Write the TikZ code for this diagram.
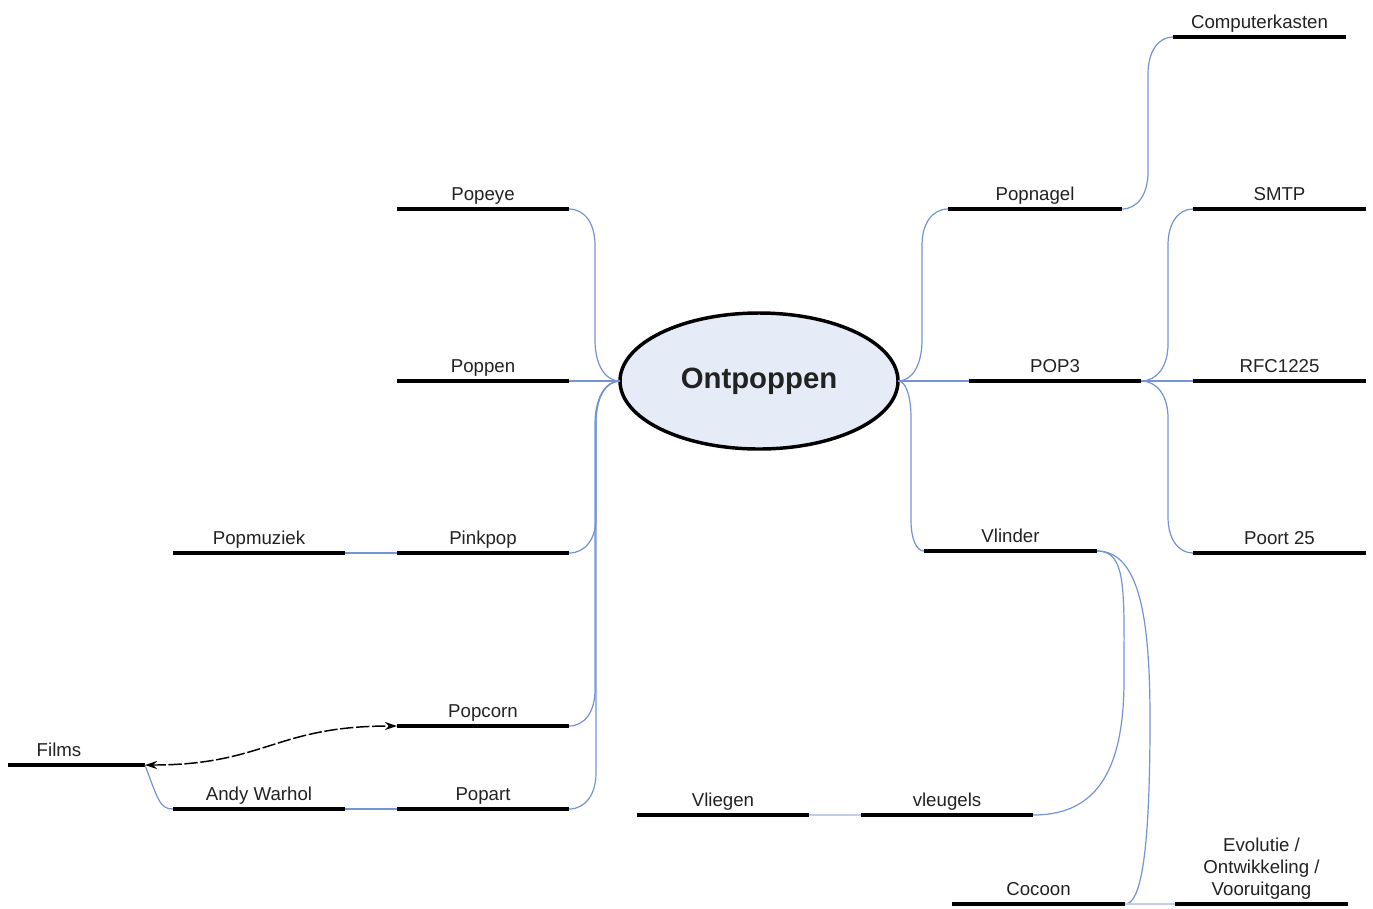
\documentclass[tikz,border=0pt]{standalone}
\usepackage{fontspec}
\setmainfont{Liberation Sans}
\usetikzlibrary{shapes.geometric,arrows.meta,calc}
\definecolor{conn}{HTML}{7393D4}
\definecolor{txt}{HTML}{222222}
\definecolor{efill}{HTML}{E6ECF7}
\tikzset{
  bar/.style={line width=3pt,black},
  lbl/.style={anchor=base,inner sep=0pt,yshift=6.75pt,text=txt,font=\fontsize{14}{16.5}\selectfont,align=center},
  link/.style={conn,line width=0.9pt},
  faint/.style={conn!45,line width=0.9pt},
  assoc/.style={black,line width=1.1pt,dash pattern=on 10pt off 2pt,{Stealth[length=9pt,width=6pt]}-{Stealth[length=9pt,width=6pt]}},
  central/.style={ellipse,draw=black,line width=2.6pt,fill=efill,minimum width=208.5pt,minimum height=102pt,inner sep=0pt,outer sep=0pt,font=\fontsize{22}{26}\bfseries\selectfont,text=txt}
}
\newcommand\topicline[4]{%
  \coordinate (#1-l) at (#2,#4);
  \coordinate (#1-r) at (#3,#4);
  \draw[bar] (#1-l) -- (#1-r);}
\newcommand\topic[5]{%
  \topicline{#1}{#2}{#3}{#4}
  \node[lbl] (#1) at ({(#2+#3)/2},#4) {#5};}
% vertical link: start, x, y of start, y1, y2, y of end, end
\newcommand\vlink[7]{%
  \draw[link] (#1) .. controls ($(#1)!0.6!(#2,#3)$) and (#2,{#4+0.6*(#3-#4)}) .. (#2,#4) -- (#2,#5)
     .. controls (#2,{#5+0.6*(#6-#5)}) and ($(#7)!0.6!(#2,#6)$) .. (#7);}
\begin{document}
\begin{tikzpicture}[x=0.75pt,y=-0.75pt]
\useasboundingbox (0,0) rectangle (1373,908);
\node[central] (c) at (759,381) {Ontpoppen};
% left
\topic{pe}{397}{569}{209}{Popeye}
\topic{pn}{397}{569}{381}{Poppen}
\topic{pk}{397}{569}{553}{Pinkpop}
\topic{pm}{173}{345}{553}{Popmuziek}
\topic{pc}{397}{569}{726}{Popcorn}
\topic{pa}{397}{569}{809}{Popart}
\topic{aw}{173}{345}{809}{Andy Warhol}
\topicline{fi}{8}{145}{765}
\node[lbl] (fi) at (59,765) {Films};
% right
\topic{pg}{948}{1122}{209}{Popnagel}
\topic{ck}{1173}{1346}{37}{Computerkasten}
\topic{sm}{1193}{1366}{209}{SMTP}
\topic{p3}{969}{1141}{381}{POP3}
\topic{rf}{1193}{1366}{381}{RFC1225}
\topic{po}{1193}{1366}{553}{Poort 25}
\topic{vl}{924}{1097}{551}{Vlinder}
\topic{vg}{861}{1033}{815}{vleugels}
\topic{vi}{637}{809}{815}{Vliegen}
\topic{co}{952}{1125}{904}{Cocoon}
\topic{ev}{1175}{1348}{904}{Evolutie /\\Ontwikkeling /\\Vooruitgang}
% connectors left
\vlink{c.west}{595}{381}{340}{245}{209}{pe-r}
\draw[link] (c.west) -- (pn-r);
\vlink{c.west}{596}{381}{422}{518}{553}{pk-r}
\vlink{c.west}{595}{381}{424}{690}{726}{pc-r}
\vlink{c.west}{596}{381}{422}{773}{809}{pa-r}
\draw[link] (pm-r) -- (pk-l);
\draw[link] (aw-r) -- (pa-l);
\draw[link] (fi-r) .. controls (158,800) and (160,809) .. (aw-l);
\draw[assoc] (fi-r) .. controls (265,765) and (275,726) .. (pc-l);
% connectors right
\vlink{c.east}{922}{381}{340}{245}{209}{pg-l}
\draw[link] (c.east) -- (p3-l);
\vlink{c.east}{911}{381}{418}{520}{551}{vl-l}
\vlink{pg-r}{1148}{209}{172}{74}{37}{ck-l}
\vlink{p3-r}{1168}{381}{344}{245}{209}{sm-l}
\draw[link] (p3-r) -- (rf-l);
\vlink{p3-r}{1168}{381}{418}{517}{553}{po-l}
\draw[link] (vl-r) .. controls (1127,551) and (1124,590) .. (1124,680) .. controls (1124,780) and (1090,815) .. (vg-r);
\draw[link] (vl-r) .. controls (1140,551) and (1150,620) .. (1150,720) .. controls (1150,860) and (1140,904) .. (co-r);
\draw[faint] (vi-r) -- (vg-l);
\draw[faint] (co-r) -- (ev-l);
\end{tikzpicture}
\end{document}
